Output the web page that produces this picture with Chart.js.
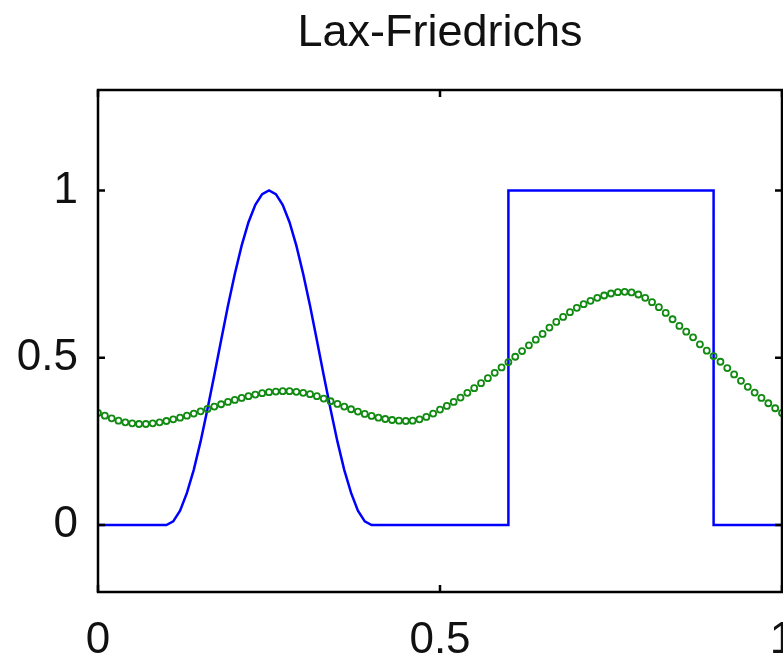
<!DOCTYPE html>
<html>
<head>
<meta charset="utf-8">
<script src="https://cdn.jsdelivr.net/npm/chart.js@4.4.1/dist/chart.umd.min.js"></script>
<style>
    html, body { margin: 0; padding: 0; background: #fff; }
    #wrap { width: 783px; height: 663px; }
</style>
</head>
<body>
<div id="wrap"><canvas id="laxChart" width="783" height="663"></canvas></div>
<script>
// 精确解（蓝线）：余弦鼓包 + 方波
const exactX = [0, 0.10, 0.11, 0.12, 0.13, 0.14, 0.15, 0.16, 0.17, 0.18, 0.19, 0.20,
    0.21, 0.22, 0.23, 0.24, 0.25, 0.26, 0.27, 0.28, 0.29, 0.30, 0.31, 0.32, 0.33,
    0.34, 0.35, 0.36, 0.37, 0.38, 0.39, 0.40, 0.60, 0.60, 0.90, 0.90, 1.00];
const exactY = [0, 0, 0.011, 0.043, 0.096, 0.165, 0.25, 0.346, 0.448, 0.552, 0.655, 0.75,
    0.835, 0.905, 0.957, 0.989, 1, 0.989, 0.957, 0.905, 0.835, 0.75, 0.655, 0.552, 0.448,
    0.346, 0.25, 0.165, 0.096, 0.043, 0.011, 0, 0, 1, 1, 0, 0];

// Lax-Friedrichs 数值解（绿色圆点）
const gridX = [0.00, 0.01, 0.02, 0.03, 0.04, 0.05, 0.06, 0.07, 0.08, 0.09,
    0.10, 0.11, 0.12, 0.13, 0.14, 0.15, 0.16, 0.17, 0.18, 0.19,
    0.20, 0.21, 0.22, 0.23, 0.24, 0.25, 0.26, 0.27, 0.28, 0.29,
    0.30, 0.31, 0.32, 0.33, 0.34, 0.35, 0.36, 0.37, 0.38, 0.39,
    0.40, 0.41, 0.42, 0.43, 0.44, 0.45, 0.46, 0.47, 0.48, 0.49,
    0.50, 0.51, 0.52, 0.53, 0.54, 0.55, 0.56, 0.57, 0.58, 0.59,
    0.60, 0.61, 0.62, 0.63, 0.64, 0.65, 0.66, 0.67, 0.68, 0.69,
    0.70, 0.71, 0.72, 0.73, 0.74, 0.75, 0.76, 0.77, 0.78, 0.79,
    0.80, 0.81, 0.82, 0.83, 0.84, 0.85, 0.86, 0.87, 0.88, 0.89,
    0.90, 0.91, 0.92, 0.93, 0.94, 0.95, 0.96, 0.97, 0.98, 0.99, 1.00];
const laxY = [0.335, 0.327, 0.319, 0.312, 0.307, 0.304, 0.302, 0.302, 0.304, 0.307,
    0.311, 0.316, 0.321, 0.327, 0.333, 0.340, 0.347, 0.354, 0.361, 0.368,
    0.374, 0.380, 0.385, 0.390, 0.394, 0.397, 0.399, 0.400, 0.400, 0.398,
    0.395, 0.391, 0.385, 0.378, 0.370, 0.362, 0.354, 0.346, 0.339, 0.332,
    0.326, 0.321, 0.317, 0.314, 0.312, 0.311, 0.312, 0.316, 0.323, 0.333,
    0.345, 0.356, 0.368, 0.381, 0.395, 0.409, 0.424, 0.439, 0.455, 0.471,
    0.487, 0.503, 0.520, 0.537, 0.554, 0.571, 0.590, 0.607, 0.622, 0.636,
    0.649, 0.660, 0.670, 0.679, 0.686, 0.692, 0.696, 0.697, 0.695, 0.689,
    0.679, 0.666, 0.651, 0.634, 0.615, 0.595, 0.578, 0.561, 0.540, 0.521,
    0.505, 0.488, 0.469, 0.450, 0.431, 0.413, 0.396, 0.380, 0.364, 0.349, 0.335];

// 坐标轴刻度
const xTicks = [0, 0.5, 1];
const yTicks = [0, 0.5, 1];

const tickFont = { family: '"Liberation Sans", Arial, sans-serif', size: 44 };

// 去掉刻度标签带来的额外边距
function noPadding(s) {
    s.paddingLeft = 0;
    s.paddingRight = 0;
    s.paddingTop = 0;
    s.paddingBottom = 0;
}

// 外框和朝内的短刻度线
const boxPlugin = {
    id: 'boxPlugin',
    afterDraw(chart) {
        const { ctx, chartArea: a, scales } = chart;
        const len = 7;
        ctx.save();
        ctx.strokeStyle = '#000';
        ctx.lineWidth = 2.5;
        ctx.strokeRect(a.left, a.top, a.right - a.left, a.bottom - a.top);
        ctx.beginPath();
        xTicks.forEach(v => {
            const px = scales.x.getPixelForValue(v);
            ctx.moveTo(px, a.bottom); ctx.lineTo(px, a.bottom - len);
            ctx.moveTo(px, a.top); ctx.lineTo(px, a.top + len);
        });
        yTicks.forEach(v => {
            const py = scales.y.getPixelForValue(v);
            ctx.moveTo(a.left, py); ctx.lineTo(a.left + len, py);
            ctx.moveTo(a.right, py); ctx.lineTo(a.right - len, py);
        });
        ctx.stroke();
        ctx.restore();
    }
};

function drawLaxChart() {
    const ctx = document.getElementById('laxChart');
    new Chart(ctx, {
        type: 'scatter',
        data: {
            datasets: [{
                label: 'exact',
                data: exactX.map((x, i) => ({ x: x, y: exactY[i] })),
                showLine: true,
                borderColor: '#0000ff',
                borderWidth: 2.5,
                pointRadius: 0,
                tension: 0,
                order: 2
            }, {
                label: 'Lax-Friedrichs',
                data: gridX.map((x, i) => ({ x: x, y: laxY[i] })),
                showLine: false,
                pointStyle: 'circle',
                pointRadius: 3,
                pointBorderWidth: 1.8,
                pointBorderColor: '#118a11',
                pointBackgroundColor: 'rgba(255,255,255,0)',
                order: 1
            }]
        },
        options: {
            responsive: false,
            animation: false,
            layout: { autoPadding: false, padding: { left: 0, right: 1, top: 0, bottom: 0 } },
            plugins: {
                legend: { display: false },
                tooltip: { enabled: false },
                title: {
                    display: true,
                    text: 'Lax-Friedrichs',
                    fullSize: false,
                    color: '#111',
                    font: { family: '"Liberation Sans", Arial, sans-serif', size: 45, weight: 'normal', lineHeight: 1 },
                    padding: { top: 11, bottom: 34 }
                }
            },
            scales: {
                x: {
                    type: 'linear',
                    min: 0,
                    max: 1,
                    afterBuildTicks: s => { s.ticks = xTicks.map(v => ({ value: v })); },
                    afterFit: s => { s.height = 71; noPadding(s); },
                    grid: { display: false, drawTicks: false },
                    border: { display: false },
                    ticks: {
                        color: '#111',
                        font: tickFont,
                        padding: 22,
                        maxRotation: 0,
                        autoSkip: false,
                        callback: v => String(v)
                    }
                },
                y: {
                    type: 'linear',
                    min: -0.2,
                    max: 1.3,
                    afterBuildTicks: s => { s.ticks = yTicks.map(v => ({ value: v })); },
                    afterFit: s => { s.width = 98; noPadding(s); },
                    grid: { display: false, drawTicks: false },
                    border: { display: false },
                    ticks: {
                        color: '#111',
                        font: tickFont,
                        padding: 20,
                        autoSkip: false,
                        callback: v => String(v)
                    }
                }
            }
        },
        plugins: [boxPlugin]
    });
}

drawLaxChart();
</script>
</body>
</html>
